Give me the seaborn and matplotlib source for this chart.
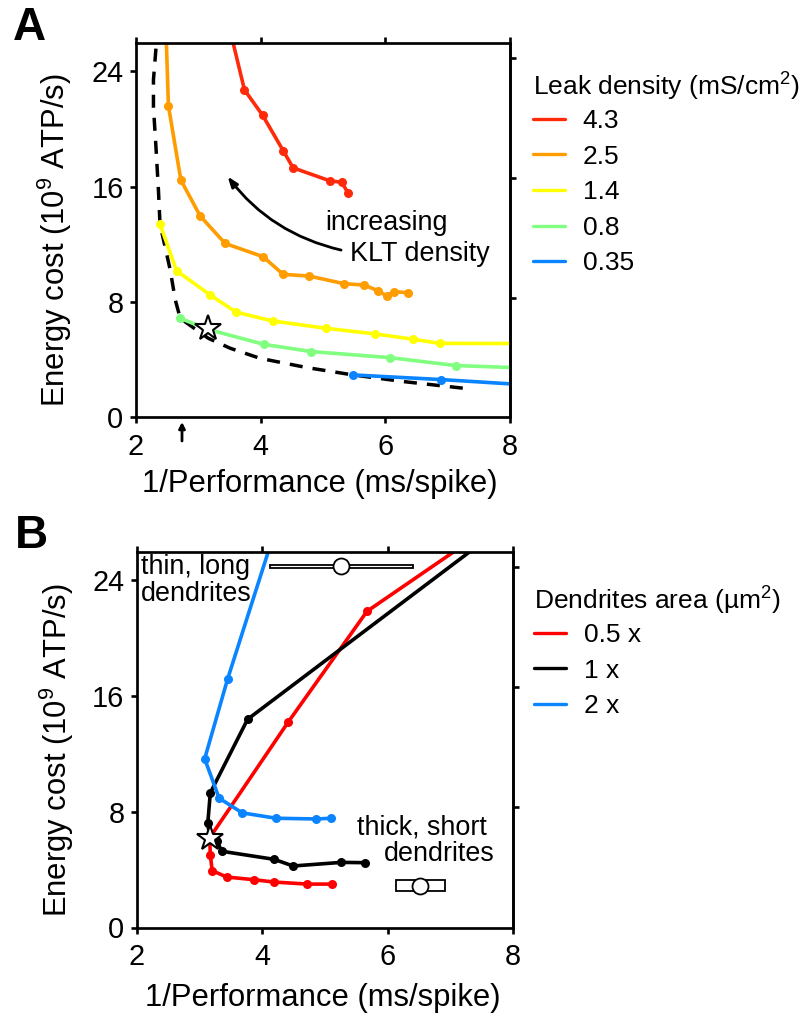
import matplotlib.pyplot as plt
import pandas as pd
import seaborn as sns
from matplotlib.lines import Line2D
from matplotlib.patches import Rectangle

# panel A, leak density series (points past the frame get clipped)
leak_labels = ["4.3", "2.5", "1.4", "0.8", "0.35"]
leak_colors = ["#ff2a0a", "#ff9c00", "#ffff00", "#80ff80", "#0a84ff"]
x_43 = [3.50, 3.74, 4.03, 4.36, 4.52, 5.11, 5.30, 5.40]
y_43 = [27.0, 22.7, 20.95, 18.5, 17.3, 16.4, 16.3, 15.57]
x_25 = [2.48, 2.52, 2.72, 3.03, 3.43, 4.04, 4.36, 4.78, 5.34, 5.66, 5.89, 6.02, 6.14, 6.36]
y_25 = [27.0, 21.6, 16.45, 13.96, 12.06, 11.14, 9.92, 9.8, 9.27, 9.18, 8.77, 8.42, 8.72, 8.65]
x_14 = [2.385, 2.65, 3.19, 3.61, 4.19, 5.05, 5.84, 6.45, 6.87, 8.3]
y_14 = [13.4, 10.17, 8.49, 7.29, 6.69, 6.18, 5.79, 5.42, 5.14, 5.12]
x_08 = [2.71, 3.16, 4.05, 4.81, 6.07, 7.13, 8.3]
y_08 = [6.87, 6.1, 5.07, 4.57, 4.15, 3.6, 3.42]
x_035 = [5.48, 6.89, 8.3]
y_035 = [2.95, 2.63, 2.25]
x_front = [2.32, 2.28, 2.28, 2.32, 2.36, 2.385, 2.55, 2.63, 2.71, 3.16, 3.51, 3.99, 4.74, 5.48, 6.29, 7.25]
y_front = [25.56, 23.4, 21.5, 18.75, 15.75, 13.4, 10.2, 8.15, 6.87, 5.49, 4.8, 4.1, 3.46, 2.95, 2.49, 2.03]

# panel B, dendrite area series
area_labels = ["0.5 x", "1 x", "2 x"]
area_colors = ["#ff0000", "#000000", "#0a84ff"]
x_05 = [7.37, 5.67, 4.41, 3.16, 3.17, 3.20, 3.43, 3.87, 4.19, 4.72, 5.11]
y_05 = [26.9, 21.85, 14.18, 6.2, 5.0, 3.93, 3.49, 3.3, 3.14, 3.0, 3.0]
x_1 = [7.62, 3.765, 3.17, 3.13, 3.16, 3.28, 3.35, 4.19, 4.49, 5.26, 5.64]
y_1 = [26.98, 14.39, 9.31, 7.23, 6.2, 5.96, 5.27, 4.71, 4.25, 4.5, 4.48]
x_2 = [4.2, 3.445, 3.08, 3.31, 3.68, 4.22, 4.86, 5.1]
y_2 = [27.4, 17.16, 11.66, 8.94, 7.92, 7.55, 7.5, 7.55]

optimum = [3.16, 6.2]
xticks = [2, 4, 6, 8]
yticks = [0, 8, 16, 24]
right_ticks = [8.3, 16.6, 24.9]


def make_df(xs, ys, labels):
    rows = []
    for xv, yv, lab in zip(xs, ys, labels):
        rows.append(pd.DataFrame({"x": xv, "y": yv, "series": lab}))
    return pd.concat(rows)


sns.set_style("ticks")
plt.rcParams["font.family"] = ["Liberation Sans", "DejaVu Sans"]
plt.rcParams["mathtext.default"] = "regular"
plt.rcParams["text.color"] = "black"
plt.rcParams["xtick.color"] = "black"
plt.rcParams["ytick.color"] = "black"
plt.rcParams["axes.labelcolor"] = "black"
W, H = 804, 1014
fig = plt.figure(figsize=(W / 100, H / 100), dpi=100)


def px_axes(left, top, right, bottom):
    return fig.add_axes([left / W, 1 - bottom / H, (right - left) / W, (bottom - top) / H])


def ftext(x, y, s, **kw):
    fig.text(x / W, 1 - y / H, s, ha=kw.pop("ha", "center"), va=kw.pop("va", "center"), **kw)


def style_axes(ax, xc, yc):
    ax.set_xlim(2, 8)
    ax.set_ylim(0, 25.95)
    ax.set_xticks(xticks)
    ax.set_yticks(yticks)
    ax.set_xlabel("")
    ax.set_ylabel("")
    ax.tick_params(axis="x", which="major", length=4, width=1.9, labelsize=20.8, pad=7, top=True)
    ax.tick_params(axis="y", which="major", length=4, width=1.9, labelsize=20.8, pad=5)
    for s in ax.spines.values():
        s.set_linewidth(1.95)
        s.set_color("black")
    right = ax.secondary_yaxis("right")
    right.set_yticks(right_ticks)
    right.set_yticklabels([])
    right.tick_params(length=4, width=1.9)
    right.spines["right"].set_linewidth(1.95)
    ftext(xc, yc, "1/Performance (ms/spike)", fontsize=22.3)


def add_legend(ax, labels, colors, title, x_left, y_title, y_top):
    # title written apart, the gap above the first row differs from the row spacing
    ftext(x_left, y_title, title, fontsize=19, ha="left")
    handles = [Line2D([], [], color=c, lw=2.4) for c in colors]
    leg = ax.legend(
        handles, labels, loc="upper left",
        bbox_to_anchor=(x_left / W, 1 - y_top / H), bbox_transform=fig.transFigure,
        frameon=False, fontsize=19, borderpad=0, borderaxespad=0,
        handlelength=1.21, handletextpad=0.68, labelspacing=0.44,
    )
    return leg


# panel A
ax_a = px_axes(136, 43, 510, 417.5)
df_a = make_df([x_43, x_25, x_14, x_08, x_035], [y_43, y_25, y_14, y_08, y_035], leak_labels)
ax_a.plot(x_front, y_front, color="black", lw=2.5, dashes=(3.75, 2.9), zorder=1.5)
sns.lineplot(
    data=df_a, x="x", y="y", hue="series", hue_order=leak_labels,
    palette=dict(zip(leak_labels, leak_colors)), estimator=None, sort=False,
    marker="o", markersize=6.5, markeredgewidth=0, linewidth=2.6, legend=False, ax=ax_a, zorder=2,
)
ax_a.plot(*optimum, marker="*", ms=19, mfc="white", mec="black", mew=1.5, zorder=4)
ax_a.annotate(
    "", xy=(3.47, 16.7), xytext=(5.29, 11.6),
    arrowprops=dict(arrowstyle="-|>,head_length=0.6,head_width=0.22", color="black", lw=2,
                    connectionstyle="arc3,rad=-0.18", shrinkA=0, shrinkB=0),
)
style_axes(ax_a, 320, 484)
add_legend(ax_a, leak_labels, leak_colors, "Leak density (mS/cm$^2$)", 533, 87, 109)
ftext(55, 240, "Energy cost (10$^9$ ATP/s)", fontsize=22.3, rotation=90)
ftext(387, 223, "increasing", fontsize=19.4)
ftext(420, 254, "KLT density", fontsize=19.4)
ftext(13, 28, "A", fontsize=33, fontweight="bold", ha="left")
# small arrow under the axis
ax_a.annotate(
    "", xy=(182, 1014 - 422), xytext=(182, 1014 - 441), xycoords="figure pixels", textcoords="figure pixels",
    arrowprops=dict(arrowstyle="-|>,head_length=0.35,head_width=0.18", color="black", lw=2, shrinkA=0, shrinkB=0),
)

# panel B
ax_b = px_axes(137, 552, 513, 927.5)
df_b = make_df([x_05, x_1, x_2], [y_05, y_1, y_2], area_labels)
sns.lineplot(
    data=df_b, x="x", y="y", hue="series", hue_order=area_labels,
    palette=dict(zip(area_labels, area_colors)), estimator=None, sort=False,
    marker="o", markersize=6.5, markeredgewidth=0, linewidth=2.6, legend=False, ax=ax_b, zorder=2,
)
ax_b.plot(*optimum, marker="*", ms=19, mfc="white", mec="black", mew=1.5, zorder=4)
style_axes(ax_b, 323, 998)
add_legend(ax_b, area_labels, area_colors, "Dendrites area (\u00b5m$^2$)", 534, 601, 623)
ftext(57, 750, "Energy cost (10$^9$ ATP/s)", fontsize=22.3, rotation=90)
ftext(141, 567, "thin, long", fontsize=19.4, ha="left")
ftext(141, 594, "dendrites", fontsize=19.4, ha="left")
ftext(422, 827, "thick, short", fontsize=19.4)
ftext(439, 854, "dendrites", fontsize=19.4)
ftext(15, 536, "B", fontsize=33, fontweight="bold", ha="left")

# cable schematics
ax_b.add_patch(Rectangle((4.13, 24.82), 2.27, 0.23, fc="white", ec="black", lw=1.3, zorder=3))
ax_b.plot(5.25, 24.95, marker="o", ms=11.5, mfc="white", mec="black", mew=1.3, zorder=4)
ax_b.add_patch(Rectangle((6.13, 2.49), 0.79, 0.77, fc="white", ec="black", lw=1.3, zorder=3))
ax_b.plot(6.52, 2.87, marker="o", ms=11.5, mfc="white", mec="black", mew=1.3, zorder=4)

plt.savefig("out.png", dpi=100)
